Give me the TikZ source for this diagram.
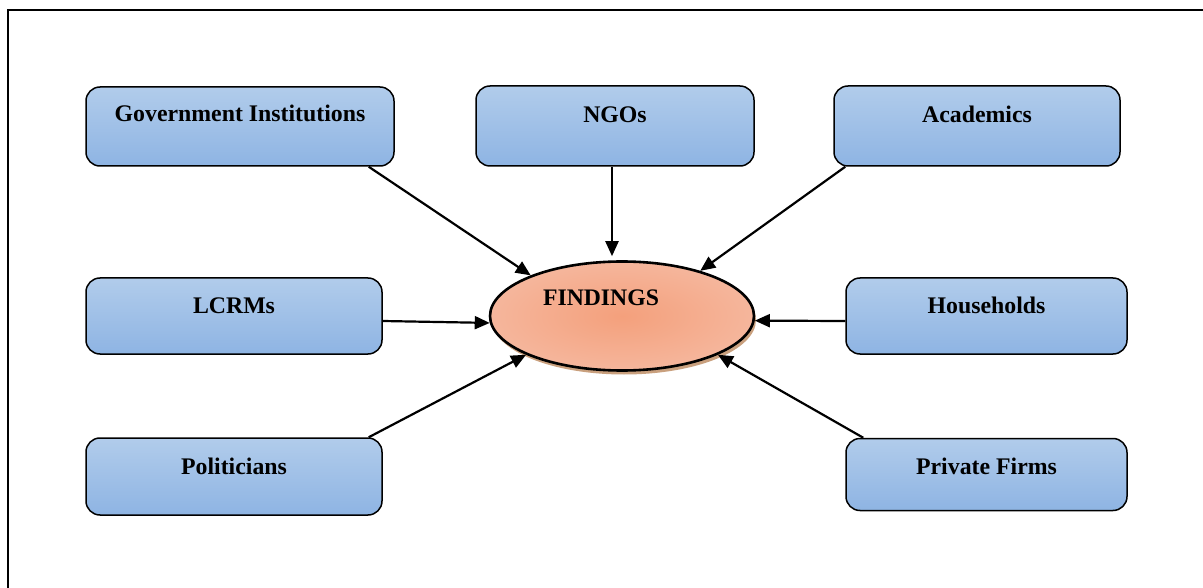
\documentclass[tikz,border=0pt]{standalone}
\usepackage{fontspec}
\setmainfont{Liberation Serif}
\usetikzlibrary{arrows.meta,calc,shapes.geometric,shadows}
\definecolor{boxtop}{HTML}{B1CCEB}
\definecolor{boxbot}{HTML}{8EB4E3}
\definecolor{salmondark}{HTML}{F4A07C}
\definecolor{salmonlight}{HTML}{F5B69C}
\definecolor{shadowtan}{HTML}{C9A07E}
\begin{document}
\begin{tikzpicture}[x=1pt,y=-1pt,
  boxnode/.style={draw=black, line width=1.5pt, rounded corners=14pt,
    top color=boxtop, bottom color=boxbot, inner sep=0pt,
    font=\fontsize{23.8}{28}\selectfont\bfseries,
    text height=16pt, text depth=22pt},
  conn/.style={line width=2.2pt, -{Triangle[length=15pt,width=13pt]}},
  frameline/.style={line width=2.4pt}]
\useasboundingbox (0,0) rectangle (1203,588);
\draw[frameline] (8,588) -- (8,10) -- (1203,10);

\node[boxnode, minimum width=308pt, minimum height=79pt, text depth=25pt] (gov) at (240,126.5) {Government Institutions};
\node[boxnode, minimum width=278pt, minimum height=80pt] (ngos) at (615,126) {NGOs};
\node[boxnode, minimum width=286pt, minimum height=80pt] (acad) at (977,126) {Academics};
\node[boxnode, minimum width=296pt, minimum height=76pt, text depth=20pt] (lcrm) at (234,316) {LCRMs};
\node[boxnode, minimum width=281pt, minimum height=76pt, text depth=20pt] (hh) at (986.5,316) {Households};
\node[boxnode, minimum width=296pt, minimum height=77pt, text depth=20pt] (pol) at (234,476.5) {Politicians};
\node[boxnode, minimum width=281pt, minimum height=72pt, text depth=17pt] (pf) at (986.5,474.5) {Private Firms};

\node[ellipse, draw=black, line width=2.6pt, minimum width=264pt, minimum height=109pt,
  inner color=salmondark, outer color=salmonlight,
  drop shadow={shadow xshift=2pt, shadow yshift=-4pt, fill=shadowtan, opacity=1},
  label={[xshift=-21pt, yshift=18.5pt, font=\fontsize{23.7}{28}\selectfont\bfseries]center:FINDINGS}]
  (find) at (622,316) {};

\draw[conn] ($(gov.south east)+(-26,0)$) -- (find.156.7);
\draw[conn] ($(ngos.south)+(-3,0)$) -- ($(ngos.south |- find.north)+(-3,-4)$);
\draw[conn] ($(acad.south west)+(12,0)$) -- (find.30.3);
\draw[conn] ($(lcrm.east)+(0,5)$) -- (find.183);
\draw[conn] ($(hh.west)+(0,5)$) -- (find.358);
\draw[conn] ($(pol.north east)+(-14,0)$) -- (find.202.4);
\draw[conn] ($(pf.north west)+(18,0)$) -- (find.338.7);
\end{tikzpicture}
\end{document}
